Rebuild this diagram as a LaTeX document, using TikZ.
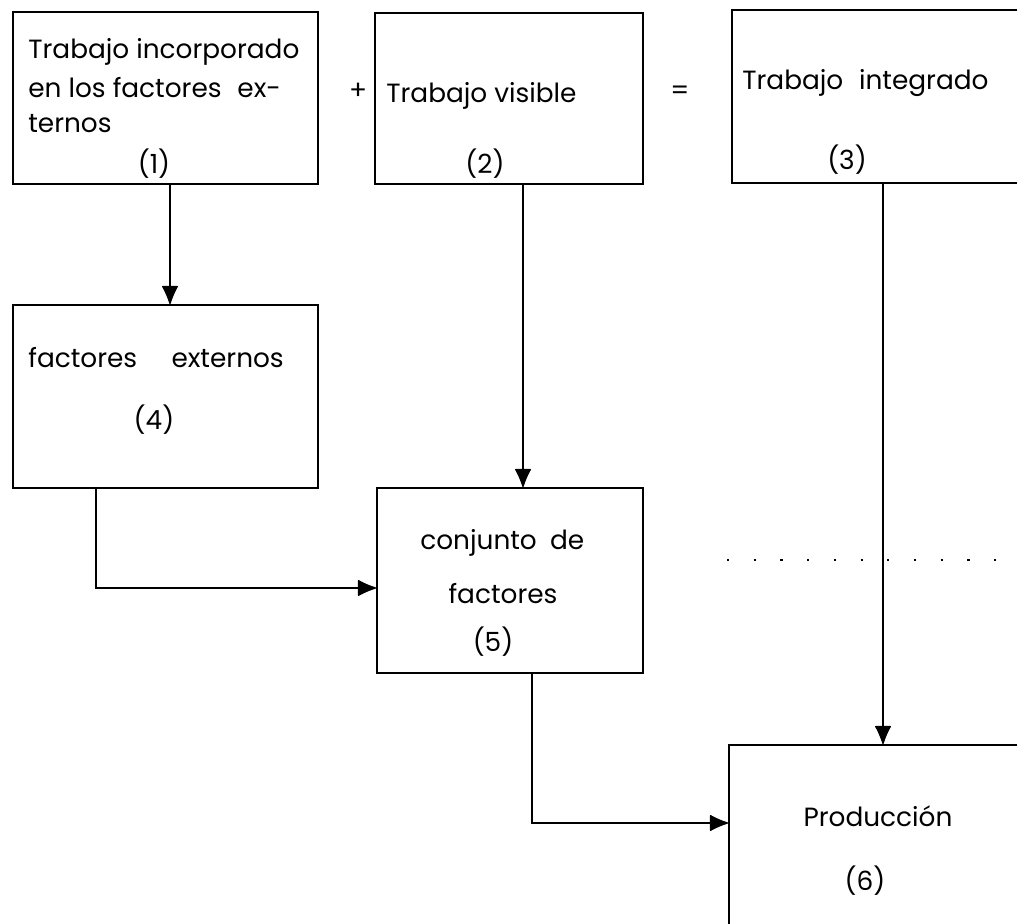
\documentclass[tikz,border=0pt]{standalone}
\usepackage{fontspec}
\setmainfont{Poppins}
\usetikzlibrary{positioning,fit,arrows.meta}
\tikzset{
	caja/.style={draw, line width=1.1pt, inner sep=0pt},
	texto/.style={anchor=base west, inner sep=0pt, font=\fontsize{15}{18}\selectfont},
	numero/.style={anchor=base, inner sep=0pt, font=\fontsize{15}{18}\selectfont},
	flecha/.style={-{Latex[round,length=4mm,width=3.4mm]}, line width=0.8pt},
	puntos/.style={line width=0.6pt, dash pattern=on 1.2pt off 14pt}
}
\begin{document}
\begin{tikzpicture}[x=0.2mm,y=-0.2mm]
		% page frame, boxes 3 and 6 run past it
		\path[use as bounding box, clip] (0,0) rectangle (1017,924);
		
		% Top row
		\node[caja, fit={(13,12) (318,184)}] (trabajo1) {};
		\node[caja, fit={(375,13) (643,184)}] (trabajo2) {};
		\node[caja, fit={(732,10) (1034,183)}] (trabajo3) {};
		
		\node[texto] (t1a) at (28,59) {Trabajo incorporado};
		\node[texto] (t1b) at (28,98) {en los factores\hspace{0.6em}ex-};
		\node[texto] (t1c) at (28,133) {ternos};
		\node[numero] (n1) at (154,174) {(1)};
		
		\node[numero] (mas) at (358,100) {+};
		\node[texto] (t2) at (386,103) {Trabajo visible};
		\node[numero] (n2) at (485,174) {(2)};
		
		\node[numero] (igual) at (680,100) {=};
		\node[texto] (t3) at (742,90) {Trabajo\hspace{0.6em}integrado};
		\node[numero] (n3) at (847,170) {(3)};
		
		% Middle and bottom boxes
		\node[caja, fit={(13,305) (318,488)}] (externos) {};
		\node[caja, fit={(377,488) (643,673)}] (conjunto) {};
		\node[caja, fit={(729,745) (1037,960)}] (produccion) {};
		
		\node[texto] (t4) at (28,368) {factores\hspace{1.3em}externos};
		\node[numero] (n4) at (154,430) {(4)};
		
		\node[texto] (t5a) at (420,550) {conjunto\hspace{0.5em}de};
		\node[numero] (t5b) at (503,604) {factores};
		\node[numero] (n5) at (493,652) {(5)};
		
		\node[numero] (t6) at (878,826) {Producción};
		\node[numero] (n6) at (865,890) {(6)};
		
		% faint dotted trace across the right column
		\draw[puntos] (727,560) -- (1017,560);
		
		%arrows between boxes
		\draw[flecha] ([xshift=0.9mm]trabajo1.south) -- ([xshift=0.9mm]trabajo1.south |- externos.north);
		\draw[flecha] ([xshift=2.8mm]trabajo2.south) -- ([xshift=2.8mm]trabajo2.south |- conjunto.north);
		\draw[flecha] (trabajo3) -- (produccion);
		\draw[flecha] ([xshift=-13.9mm]externos.south) |- ([yshift=-1.5mm]conjunto.west);
		\draw[flecha] ([xshift=4.4mm]conjunto.south) |- ([yshift=5.9mm]produccion.west);
		
\end{tikzpicture}
\end{document}
